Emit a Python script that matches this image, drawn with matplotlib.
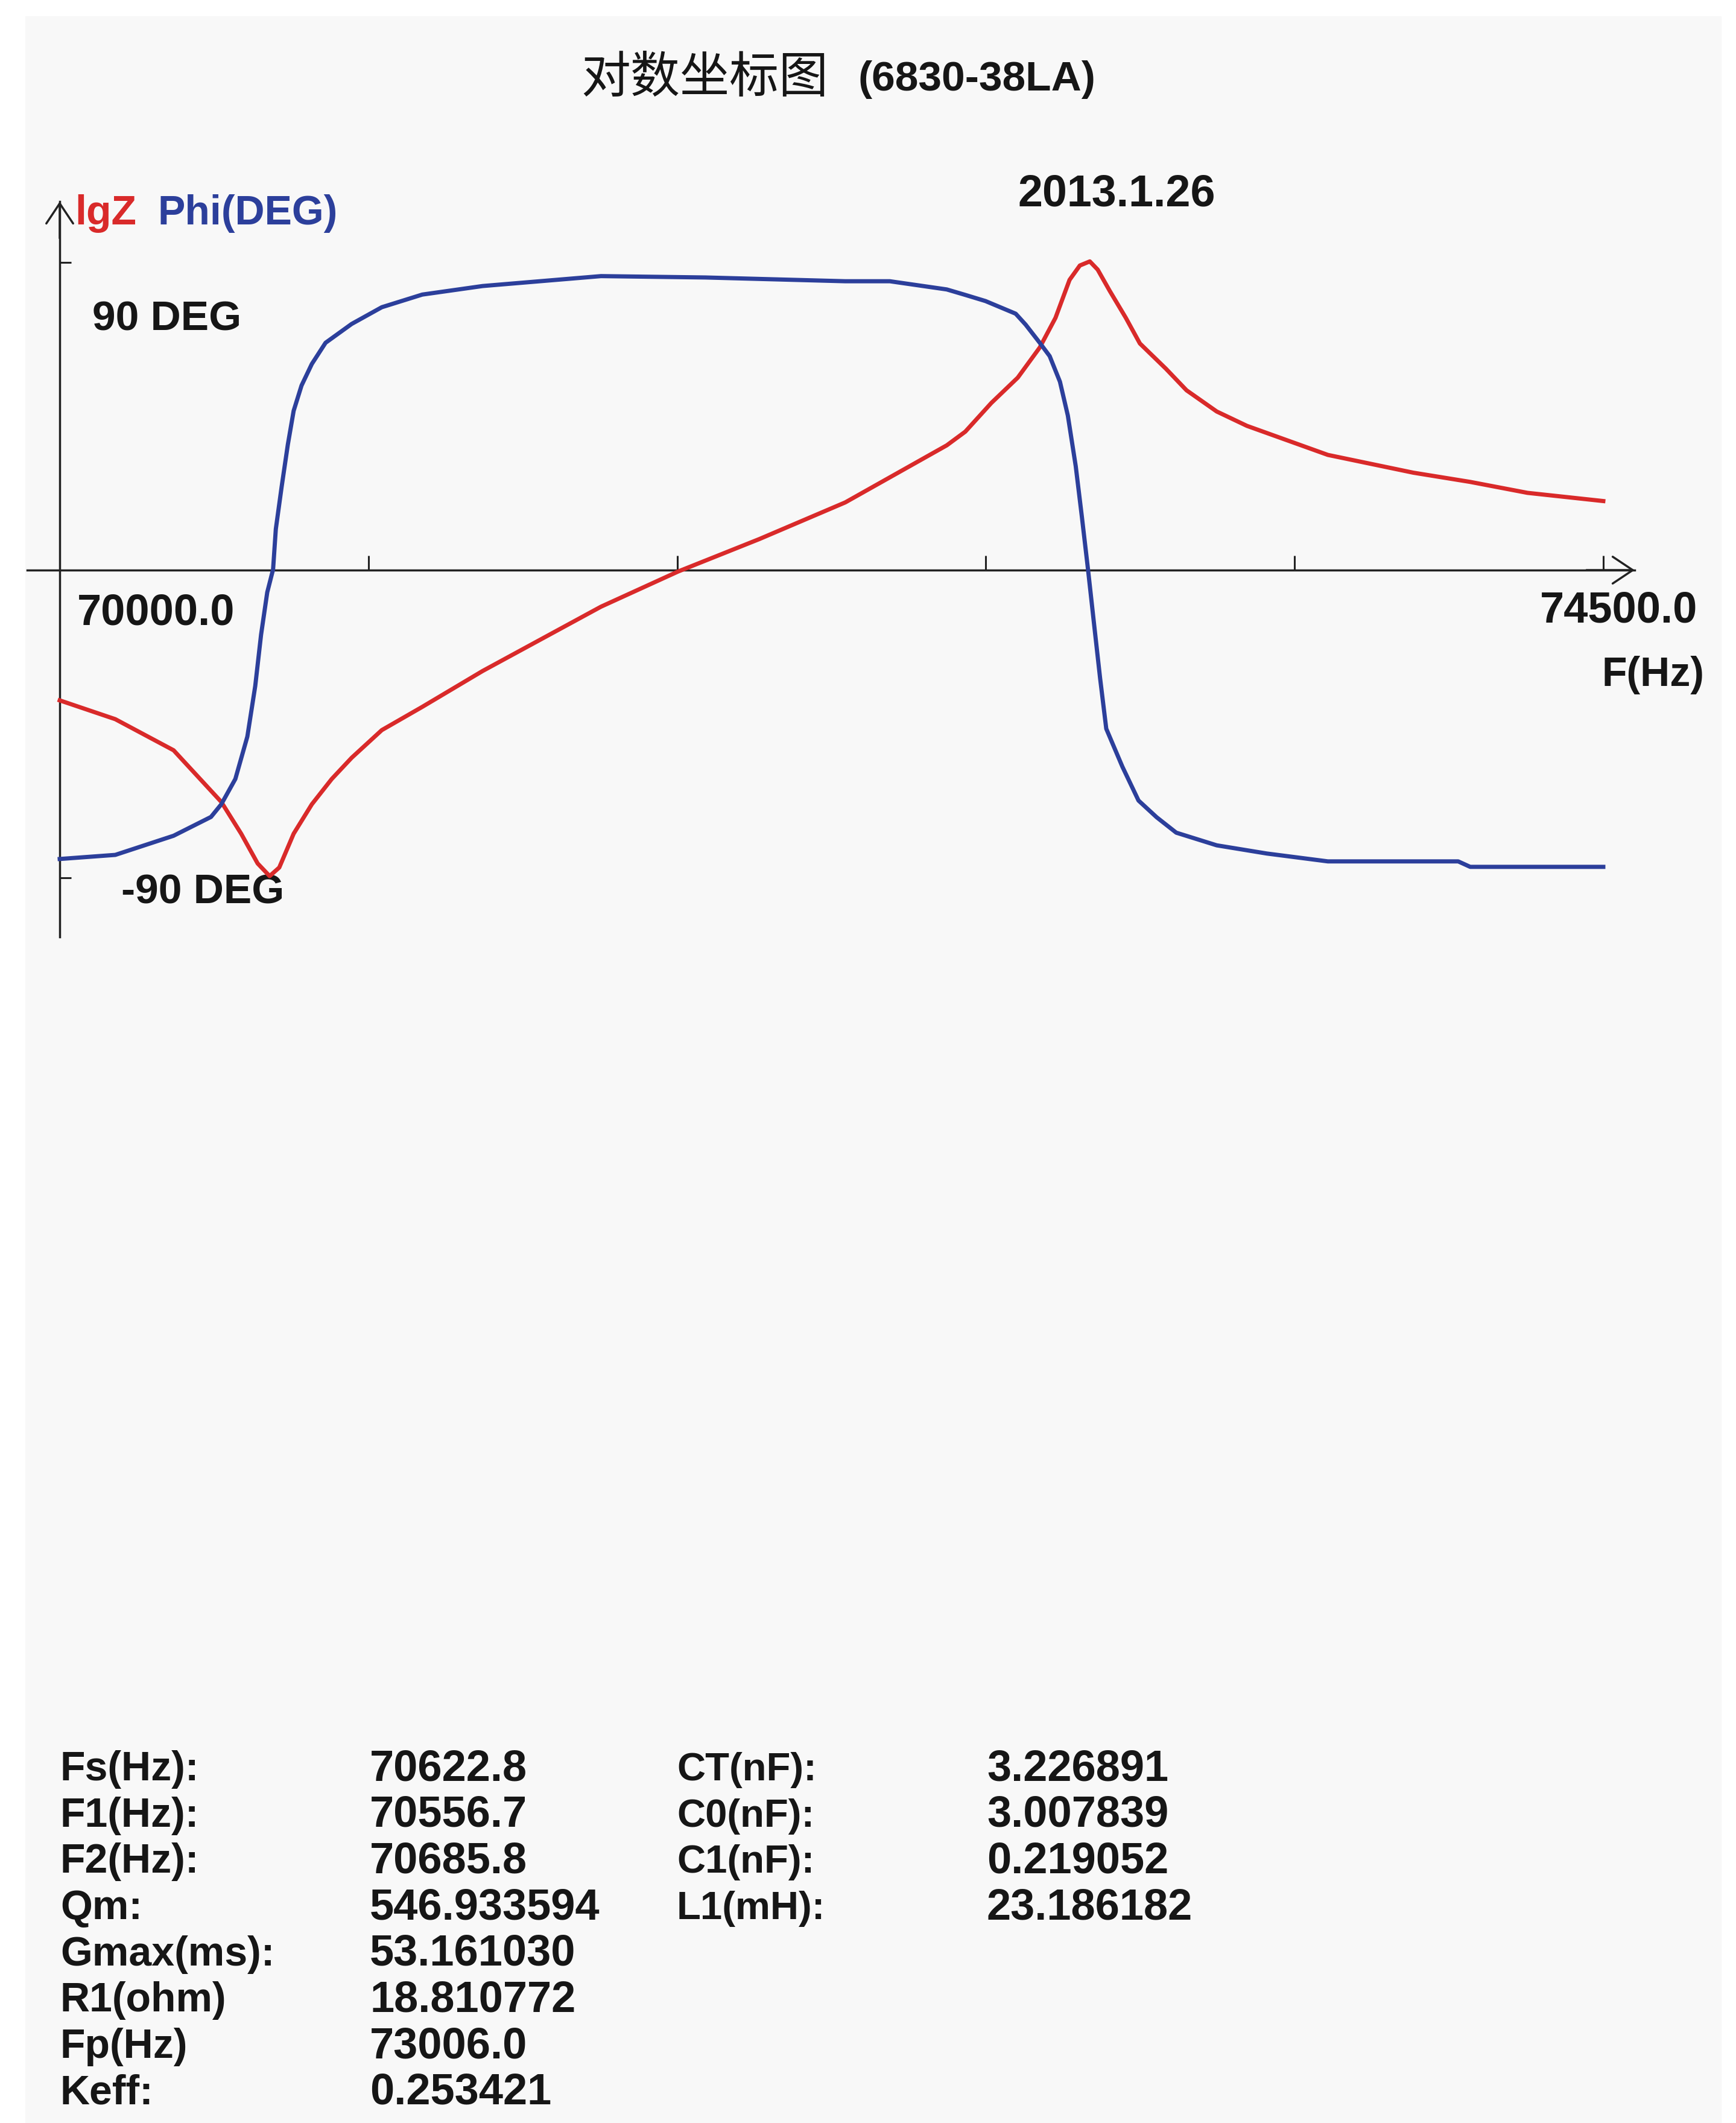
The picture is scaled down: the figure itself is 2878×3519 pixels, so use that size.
import matplotlib.pyplot as plt
from matplotlib.patches import Rectangle

W, H = 2878, 3519
DPI = 100

# Phi(DEG) curve (blue)
phi_freq = [70000, 70162, 70332, 70441, 70471, 70512, 70547, 70570, 70587, 70605,
            70622, 70630, 70647, 70665, 70682, 70705, 70735, 70775, 70851, 70939,
            71057, 71233, 71578, 71882, 72290, 72420, 72586, 72640, 72699, 72787,
            72816, 72857, 72886, 72916, 72939, 72962, 72980, 72998, 73015, 73033,
            73051, 73098, 73145, 73198, 73255, 73373, 73519, 73697, 74077, 74112,
            74500]
phi_deg = [-84.5, -83.3, -77.7, -72.2, -68.5, -61.1, -48.7, -33.9, -18.9, -6.5,
           0.2, 12.0, 24.4, 36.7, 46.6, 54.0, 60.3, 66.5, 72.0, 76.9,
           80.6, 83.1, 86.0, 85.6, 84.5, 84.5, 82.1, 80.5, 78.7, 75.0,
           71.8, 66.5, 62.6, 55.1, 45.2, 30.4, 15.5, 0.0, -15.4, -31.6,
           -46.4, -57.5, -67.4, -72.3, -76.8, -80.5, -82.9, -85.2, -85.2, -86.8,
           -86.8]

# lgZ curve (red), read on the same vertical scale as the phase axis
lgz_freq = [70000, 70162, 70332, 70471, 70529, 70577, 70612, 70640, 70682, 70735,
            70793, 70851, 70939, 71057, 71233, 71578, 71803, 72040, 72290, 72586,
            72640, 72716, 72793, 72857, 72903, 72944, 72974, 73003, 73026, 73061,
            73108, 73149, 73225, 73285, 73373, 73461, 73697, 73946, 74112, 74279,
            74500]
lgz_val = [-38.1, -43.6, -52.7, -67.8, -77.1, -85.8, -89.5, -87.0, -77.1, -68.5,
           -61.1, -54.9, -46.8, -40.0, -29.5, -10.7, -0.4, 9.1, 19.8, 36.5,
           40.5, 48.9, 56.3, 65.1, 73.8, 84.9, 89.1, 90.3, 87.9, 81.7,
           73.8, 66.3, 58.9, 52.6, 46.4, 42.2, 33.7, 28.5, 25.8, 22.6,
           20.2]

x_ticks = [70900, 71800, 72700, 73600, 74500]
y_ticks = [-90, 90]

names_left = ['Fs(Hz):', 'F1(Hz):', 'F2(Hz):', 'Qm:', 'Gmax(ms):', 'R1(ohm)', 'Fp(Hz)', 'Keff:']
values_left = ['70622.8', '70556.7', '70685.8', '546.933594', '53.161030',
               '18.810772', '73006.0', '0.253421']
names_right = ['CT(nF):', 'C0(nF):', 'C1(nF):', 'L1(mH):']
values_right = ['3.226891', '3.007839', '0.219052', '23.186182']

RED = '#d92a2a'
BLUE = '#2c3f9b'
INK = '#161616'
FONT = 'Liberation Sans'
FS = 49      # letters
FS_NUM = 52  # numbers

fig = plt.figure(figsize=(W / DPI, H / DPI), dpi=DPI, facecolor='white')

# pixel-coordinate layer for the panel and all texts
bg = fig.add_axes([0, 0, 1, 1])
bg.set_xlim(0, W)
bg.set_ylim(H, 0)
bg.axis('off')
bg.add_patch(Rectangle((42, 27), 2853 - 42, H - 27, color='#f8f8f8', zorder=0))

def label(x, y, s, ha='left', color=INK, size=FS, weight='bold', family=FONT):
    bg.text(x, y, s, ha=ha, va='baseline', color=color, fontsize=size,
            fontweight=weight, family=family)

# title
label(963, 153, '对数坐标图', size=59, weight='normal', family=['Noto Sans CJK SC', 'DejaVu Sans'])
label(1422, 150, '(6830-38LA)', size=50)

label(124, 372, 'lgZ', color=RED)
label(262, 372, 'Phi(DEG)', color=BLUE)
label(1687, 342, '2013.1.26', size=FS_NUM + 1)
label(153, 548, '90 DEG', size=50)
label(128, 1036, '70000.0', size=FS_NUM)
label(201, 1498, '-90 DEG', size=50)
label(2814, 1032, '74500.0', ha='right', size=FS_NUM)
label(2825, 1137, 'F(Hz)', ha='right')

# parameter table
row0, row_h = 2951, 76.7
for i, (n, v) in enumerate(zip(names_left, values_left)):
    label(100, row0 + i * row_h, n)
    label(613, row0 + i * row_h, v, size=FS_NUM)
for i, (n, v) in enumerate(zip(names_right, values_right)):
    label(1122, row0 + i * row_h, n, size=47)
    label(1636, row0 + i * row_h, v, size=FS_NUM)

# main plot, axes placed so the origin lines up with the reference
x0_px, x1_px = 45, 2710
y0_px, y1_px = 334, 1553
ax = fig.add_axes([x0_px / W, 1 - y1_px / H, (x1_px - x0_px) / W, (y1_px - y0_px) / H])
ax.patch.set_visible(False)
px_per_hz = (2658 - 99) / 4500
px_per_deg = (1456 - 436) / 180
ax.set_xlim(70000 - (99 - x0_px) / px_per_hz, 74500 + (x1_px - 2658) / px_per_hz)
ax.set_ylim(-(y1_px - 945) / px_per_deg, (945 - y0_px) / px_per_deg)

ax.plot(lgz_freq, lgz_val, color=RED, lw=5, solid_joinstyle='round', zorder=3)
ax.plot(phi_freq, phi_deg, color=BLUE, lw=5, solid_joinstyle='round', zorder=4)

for s in ['top', 'right']:
    ax.spines[s].set_visible(False)
ax.spines['left'].set_position(('data', 70000))
ax.spines['bottom'].set_position(('data', 0))
for s in ['left', 'bottom']:
    ax.spines[s].set_linewidth(2.5)
    ax.spines[s].set_color('#222222')
ax.set_xticks(x_ticks)
ax.set_yticks(y_ticks)
ax.tick_params(axis='x', direction='in', length=17, width=2.2, color='#222222')
ax.tick_params(axis='y', direction='in', length=14, width=2.2, color='#222222')
ax.tick_params(labelbottom=False, labelleft=False)

arrow = dict(arrowstyle='->,head_length=1.2,head_width=0.8', lw=2.5, color='#222222',
             shrinkA=0, shrinkB=0, mutation_scale=20)
ax.annotate('', xy=(1, 0), xycoords=('axes fraction', 'data'),
            xytext=(0.97, 0), textcoords=('axes fraction', 'data'), arrowprops=arrow)
ax.annotate('', xy=(70000, 1), xycoords=('data', 'axes fraction'),
            xytext=(70000, 0.95), textcoords=('data', 'axes fraction'), arrowprops=arrow)

fig.savefig('out.png', dpi=DPI, facecolor='white')
